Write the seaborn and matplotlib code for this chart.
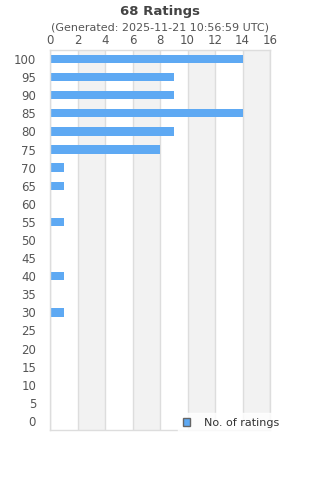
import matplotlib
matplotlib.use("Agg")
import matplotlib.pyplot as plt
import seaborn as sns
import pandas as pd
from matplotlib.patches import Patch

categories = ["100", "95", "90", "85", "80", "75", "70", "65", "60", "55", "50",
              "45", "40", "35", "30", "25", "20", "15", "10", "5", "0"]
counts = [14, 9, 9, 14, 9, 8, 1, 1, 0, 1, 0, 0, 1, 0, 1, 0, 0, 0, 0, 0, 0]
xticks = [0, 2, 4, 6, 8, 10, 12, 14, 16]

sns.set_style("white")
plt.rcParams['font.family'] = ['DejaVu Sans']

df = pd.DataFrame({"rating": categories, "count": counts})

fig = plt.figure(figsize=(3.2, 4.8), dpi=100)
ax = fig.add_axes([50/320, 1 - 430/480, 220/320, 380/480])

# alternating bands
for i in range(1, len(xticks) - 1, 2):
    ax.axvspan(xticks[i], xticks[i + 1], color="#f2f2f2", zorder=0, lw=0)

sns.barplot(data=df, y="rating", x="count", order=categories, orient="h",
            color="#5ea9f3", saturation=1, width=0.46, linewidth=0,
            ax=ax, zorder=2)

ax.set_xlim(0, 16)
ax.set_xticks(xticks)
ax.xaxis.tick_top()
ax.xaxis.set_label_position("top")
ax.set_xlabel("")
ax.set_ylabel("")
ax.grid(axis="x", color="#dddddd", lw=1, zorder=1)
ax.set_axisbelow(True)
ax.tick_params(axis="both", length=0, labelsize=8.5, colors="#555555")
ax.tick_params(axis="x", pad=2)
ax.tick_params(axis="y", pad=10)
for s in ax.spines.values():
    s.set_color("#dddddd")
    s.set_linewidth(1)

fig.text(0.5, 1 - 11/480, "68 Ratings", ha="center", va="center",
         fontsize=9.5, fontweight="bold", color="#444444")
fig.text(0.5, 1 - 28/480, "(Generated: 2025-11-21 10:56:59 UTC)", ha="center",
         va="center", fontsize=8, color="#555555")

handle = Patch(facecolor="#5ea9f3", edgecolor="#666666", lw=1)
leg = fig.legend([handle], ["No. of ratings"], loc="lower left",
                 bbox_to_anchor=(178/320, 1 - 433/480), frameon=True, fontsize=8,
                 handlelength=0.65, handleheight=0.65, handletextpad=1.2,
                 borderpad=0.45, borderaxespad=0, fancybox=False,
                 labelcolor="#333333")
leg.get_frame().set_facecolor("white")
leg.get_frame().set_edgecolor("white")
leg.set_zorder(10)

fig.savefig("out.png", dpi=100)
